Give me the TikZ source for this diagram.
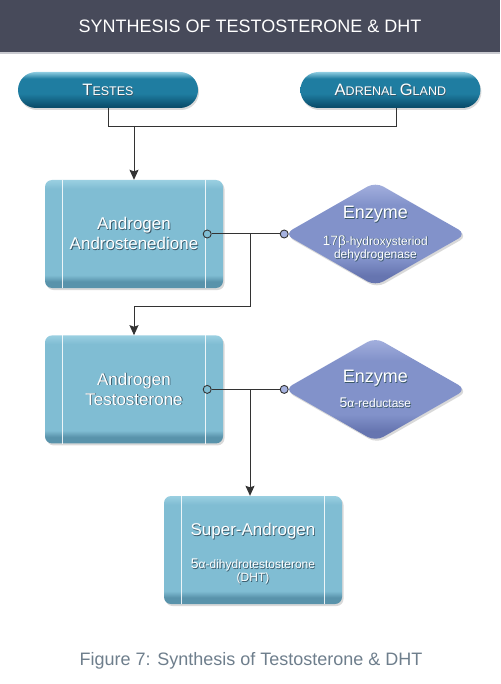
\documentclass[tikz,border=0pt]{standalone}
\usepackage{fontspec}
\setmainfont{Liberation Sans}
\usetikzlibrary{shapes.geometric,arrows.meta,positioning,shadows}

\definecolor{titlebg}{HTML}{474A5A}
\definecolor{titleline}{HTML}{C9CAD0}
\definecolor{capgrey}{HTML}{6E7E8C}
\definecolor{linegrey}{HTML}{333333}
\definecolor{boxlight}{HTML}{9ACFE1}
\definecolor{boxmain}{HTML}{80BDD3}
\definecolor{boxdark}{HTML}{5993AB}
\definecolor{pilllight}{HTML}{8CCBE0}
\definecolor{pillmain}{HTML}{1F7DA1}
\definecolor{pilldark}{HTML}{0A4D6B}
\definecolor{enzlight}{HTML}{A6B2DF}
\definecolor{enzmain}{HTML}{8292CA}
\definecolor{enzdark}{HTML}{6675B0}
\definecolor{shadecol}{HTML}{3A5868}

% white text with a dark shadow
\newcommand{\txtshade}[1]{\leavevmode\rlap{\kern0.8pt\raisebox{-0.8pt}{\textcolor{shadecol}{#1}}}#1}

\pgfdeclareverticalshading{boxshade}{100bp}{color(0bp)=(boxdark); color(28bp)=(boxdark);
  color(31bp)=(boxmain); color(71bp)=(boxmain); color(75bp)=(boxlight); color(100bp)=(boxlight)}
\pgfdeclareverticalshading{pillshade}{100bp}{color(0bp)=(pilldark); color(27bp)=(pilldark);
  color(45bp)=(pillmain); color(66bp)=(pillmain); color(75bp)=(pilllight); color(100bp)=(pilllight)}
\pgfdeclareverticalshading{enzshade}{100bp}{color(0bp)=(enzdark); color(30bp)=(enzdark);
  color(38bp)=(enzmain); color(64bp)=(enzmain); color(75bp)=(enzlight); color(100bp)=(enzlight)}

\begin{document}
\begin{tikzpicture}[
    x=1pt, y=-1pt,
    node distance=40pt,
    source/.style={rectangle, rounded corners=18pt, shading=pillshade, minimum width=180pt,
      minimum height=36pt, inner sep=0pt, text=white,
      drop shadow={opacity=0.3, shadow xshift=1pt, shadow yshift=-2pt}},
    androgen/.style={rectangle, rounded corners=7pt, shading=boxshade, minimum width=178pt,
      minimum height=108pt, inner sep=0pt, text=white, align=center,
      font=\fontsize{17}{20}\selectfont,
      drop shadow={opacity=0.3, shadow xshift=1.5pt, shadow yshift=-2pt}},
    enzyme/.style={diamond, rounded corners=9pt, shading=enzshade, minimum width=182pt,
      minimum height=104pt, inner sep=0pt,
      drop shadow={opacity=0.3, shadow xshift=1.5pt, shadow yshift=-2pt}},
    enztext/.style={text=white, align=center, font=\fontsize{12}{11}\selectfont},
    port/.style={circle, draw=linegrey, line width=0.9pt, minimum size=8pt, inner sep=0pt},
    line/.style={draw=linegrey, line width=1pt},
    arrow/.style={line, -{Stealth[length=10pt,width=9pt,inset=1.5pt]}}
]
\useasboundingbox (0,0) rectangle (500,684);

% Title bar
\fill[titlebg] (0,0) rectangle (500,52);
\fill[titleline] (0,52) rectangle (500,54.5);
\node[text=white, font=\fontsize{18}{20}\selectfont] (title) at (250,26)
  {SYNTHESIS OF TESTOSTERONE \& DHT};

% Sources
\node[source] (testes) at (108,90)
  {\txtshade{\fontsize{16.5}{18}\selectfont T\fontsize{12.5}{14}\selectfont ESTES}};
\node[source, right=102pt of testes] (adrenal)
  {\txtshade{\fontsize{16.5}{18}\selectfont A\fontsize{12.5}{14}\selectfont DRENAL
   \fontsize{16.5}{18}\selectfont G\fontsize{12.5}{14}\selectfont LAND}};

% Androgens
\node[androgen] (andro) at (134,234) {\txtshade{Androgen}\\\txtshade{Androstenedione}};
\node[androgen, below=47pt of andro] (testo) {\txtshade{Androgen}\\\txtshade{Testosterone}};
\node[androgen] (dht) at (253,550)
  {\rule{0pt}{21pt}\txtshade{Super-Androgen}\\[13pt]
   \txtshade{{\fontsize{14}{13}\selectfont 5}{\fontsize{12}{13}\selectfont α-dihydrotestosterone}}\\[-7pt]
   \txtshade{\fontsize{12}{13}\selectfont (DHT)}};

% Inner white lines
\foreach \b in {andro,testo,dht} {
  \draw[white, opacity=0.85, line width=0.8pt] ([xshift=18pt]\b.north west) -- ([xshift=18pt]\b.south west);
  \draw[white, opacity=0.85, line width=0.8pt] ([xshift=-18pt]\b.north east) -- ([xshift=-18pt]\b.south east);
}

% Enzymes
\node[enzyme, right=61pt of andro] (enz1) {};
\node[enztext] (enz1txt) at (enz1)
  {\txtshade{\fontsize{18}{19}\selectfont Enzyme}\\[11pt]
   \txtshade{{\fontsize{13.5}{11}\selectfont 17β}-hydroxysteriod}\\\txtshade{dehydrogenase}};
\node[enzyme, right=61pt of testo] (enz2) {};
\node[enztext] (enz2txt) at (enz2)
  {\txtshade{\fontsize{18}{19}\selectfont Enzyme}\\[10pt]
   \txtshade{{\fontsize{14}{11}\selectfont 5}α-reductase}};

% Ports
\node[port, fill=boxmain] (p1) at ([xshift=-16pt]andro.east) {};
\node[port, fill=enzlight] (p2) at (enz1.west) {};
\node[port, fill=boxmain] (p3) at ([xshift=-16pt]testo.east) {};
\node[port, fill=enzlight] (p4) at (enz2.west) {};
\coordinate (j0) at (134,126);
\coordinate (j1) at (250,234);
\coordinate (j2) at (250,389);

% Connectors
\draw[line] (testes.south) -- ++(0,18) -| ([xshift=6pt]adrenal.south);
\draw[arrow] (j0) -- (andro.north);
\draw[line] (p1) -- (p2);
\draw[arrow] (j1) -- ++(0,72) -| (testo.north);
\draw[line] (p3) -- (p4);
\draw[arrow] (j2) -- (j2 |- dht.north);

% Caption
\node[text=capgrey, font=\fontsize{18}{20}\selectfont] (caption) at (251,661)
  {Figure 7: Synthesis of Testosterone \& DHT};

\end{tikzpicture}
\end{document}
